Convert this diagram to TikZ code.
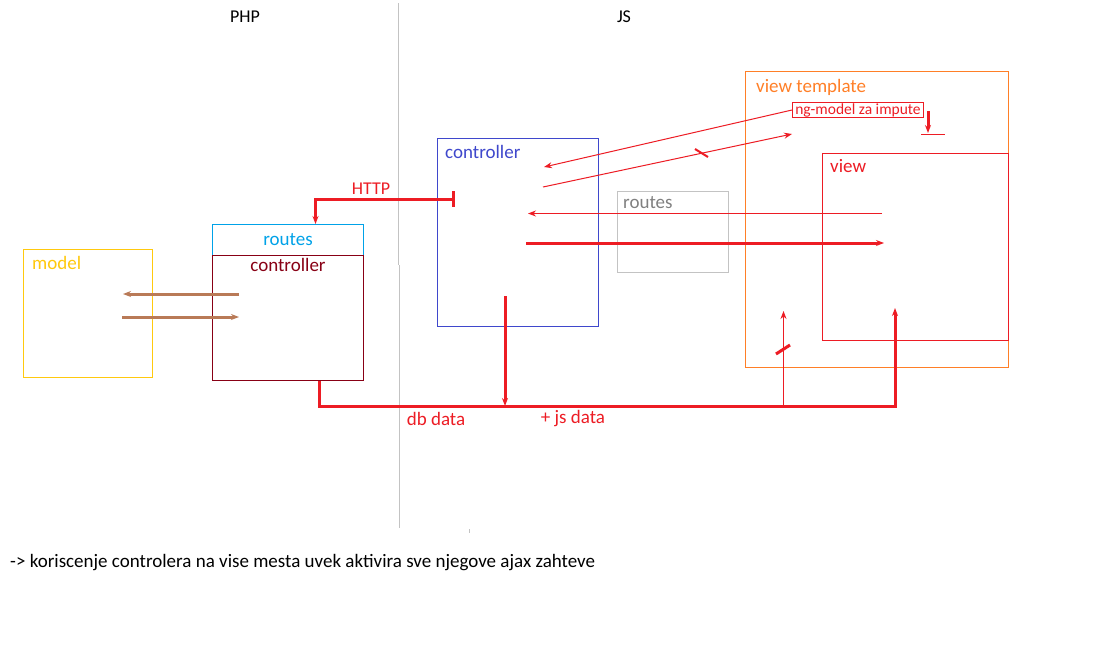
\documentclass[tikz,border=0pt]{standalone}
\usepackage{fontspec}
\setmainfont{Carlito}
\usepackage{xcolor}
\usetikzlibrary{arrows.meta,positioning}
\definecolor{modelyellow}{HTML}{FFC90E}
\definecolor{routesblue}{HTML}{00A2E8}
\definecolor{ctrlred}{HTML}{880015}
\definecolor{jsblue}{HTML}{3F48CC}
\definecolor{softgray}{HTML}{C3C3C3}
\definecolor{tmplorange}{HTML}{FF7F27}
\definecolor{paintred}{HTML}{ED1C24}
\definecolor{paintbrown}{HTML}{B97A57}
\tikzset{
    >={Stealth[length=8pt,width=6pt]},
    panel/.style={
        rectangle,
        draw=#1, line width=1pt,
        anchor=north west,
        inner sep=0pt
    },
    sized/.style 2 args={minimum width=#1pt, minimum height=#2pt},
    caption/.style={
        text=#1,
        inner sep=0pt,
        font={\fontsize{19pt}{22pt}\selectfont}
    },
    wire/.style={draw=paintred, line width=3pt},
    thinwire/.style={draw=paintred, line width=1pt},
    brownwire/.style={draw=paintbrown, line width=3pt},
    divider/.style={draw=softgray, line width=1pt},
}
\begin{document}
\begin{tikzpicture}[x=1pt,y=-1pt]
\useasboundingbox[fill=white] (0,0) rectangle (1097,662);
% php / js split
\draw[divider] (398.5,3) -- (398.5,265) (399.5,265) -- (399.5,528);
\draw[divider] (469.5,529) -- (469.5,533);
\node[caption=black, font={\fontsize{18pt}{21pt}\selectfont}] (php) at (245,17) {PHP};
\node[caption=black, font={\fontsize{18pt}{21pt}\selectfont}] (js) at (624,17) {JS};

% php side
\node[panel=modelyellow, sized={129}{128}] (model) at (23,249) {};
\node[caption=modelyellow, below right=7pt and 9pt of model.north west, anchor=north west] (modellbl) {model};
\node[panel=routesblue, sized={151}{31}] (routes) at (212,224) {};
\node[panel=ctrlred, sized={151}{125}] (phpctrl) at (212,255) {};
\node[caption=routesblue] (routeslbl) at (routes.center) {routes};
\node[caption=ctrlred, below=3pt of phpctrl.north] (phpctrllbl) {controller};

% js side
\node[panel=jsblue, sized={161}{188}] (jsctrl) at (437,138) {};
\node[caption=jsblue, below right=7pt and 8pt of jsctrl.north west, anchor=north west] (jsctrllbl) {controller};
\node[panel=softgray, sized={111}{81}] (jsroutes) at (617,191) {};
\node[caption=gray, below right=5pt and 6pt of jsroutes.north west, anchor=north west] (jsrouteslbl) {routes};
\node[panel=tmplorange, sized={263}{296}] (tmpl) at (745,71) {};
\node[caption=tmplorange, below right=8pt and 11pt of tmpl.north west, anchor=north west] (tmpllbl) {view template};
\node[panel=paintred, sized={131}{15}, caption=paintred, font={\fontsize{15.5pt}{17pt}\selectfont}] (ngmodel) at (792,102) {ng-model za impute};
\node[panel=paintred, sized={186}{187}] (view) at (822,153) {};
\node[caption=paintred, below right=6pt and 8pt of view.north west, anchor=north west] (viewlbl) {view};

% free ends
\coordinate (httpstart) at (455,199);
\coordinate (bindin) at (544,167);
\coordinate (bindout) at (543,187);
\coordinate (bindend) at (792,134);
\coordinate (routeout) at (882,213.5);
\coordinate (routein) at (528,213.5);
\coordinate (renderout) at (526,243);
\coordinate (renderin) at (884,243);
\coordinate (dbdown) at (505,296);
\coordinate (dbjoin) at (505,406);
\coordinate (viewin) at (895,308);
\coordinate (tmplin) at (783.5,311);
\coordinate (tmplfoot) at (783.5,406);
\coordinate (ngdown) at (928,111);
\coordinate (ngstop) at (928,133);

% http request
\draw[wire, {Bar[width=16pt]}->] (httpstart) -| ([xshift=27.5pt]routes.north);
\node[caption=paintred, font={\fontsize{18pt}{21pt}\selectfont}] (httplbl) at (371,189) {HTTP};

% model <-> controller
\draw[brownwire, ->] (239,294) -- (123,294);
\draw[brownwire, ->] (122,317) -- (239,317);

% data back to the view
\draw[wire, ->] ([xshift=31.5pt]phpctrl.south) |- (dbjoin) -| (viewin);
\draw[wire, ->] (dbdown) -- (dbjoin);
\draw[thinwire, ->] (tmplfoot) -- (tmplin);
\draw[wire] (776,354) -- (790,345);
\node[caption=paintred] (dblbl) at (436,419) {db data};
\node[caption=paintred] (jslbl) at (573,419) {+ js data};

% controller <-> template
\draw[thinwire, ->] (ngmodel.west) -- (bindin);
\draw[thinwire, ->] (bindout) -- (bindend);
\draw[line width=2pt, draw=paintred] (695,149) -- (708,157);
\draw[thinwire, ->] (routeout) -- (routein);
\draw[wire, ->] (renderout) -- (renderin);
\draw[wire, ->] (ngdown) -- (ngstop);
\draw[thinwire] (921,134.5) -- (945,134.5);

\node[caption=black, anchor=base west] (note) at (10,567) {-> koriscenje controlera na vise mesta uvek aktivira sve njegove ajax zahteve};
\end{tikzpicture}
\end{document}
